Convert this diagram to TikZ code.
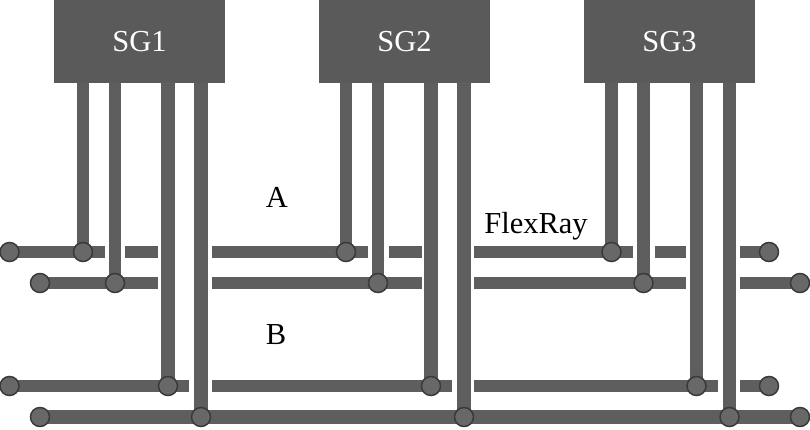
\documentclass[tikz,border=0pt]{standalone}
\usepackage{fontspec}
\setmainfont{Liberation Serif}
\usetikzlibrary{backgrounds}
\definecolor{boxgray}{HTML}{5A5A5A}
\definecolor{wiregray}{HTML}{5E5E5E}
\definecolor{tapgray}{HTML}{686868}
\definecolor{tapdark}{HTML}{3A3A3A}
\begin{document}
\begin{tikzpicture}[x=1pt,y=-1pt,
  sgbox/.style={fill=boxgray,text=white,minimum width=171pt,minimum height=83pt,inner sep=0pt},
  wire/.style={draw=wiregray,line width=12.5pt},
  tap/.style={circle,fill=tapgray,draw=tapdark,line width=1.5pt,minimum size=19pt,inner sep=0pt},
  every node/.append style={font=\fontsize{30.5}{32}\selectfont}]
\useasboundingbox (0,0) rectangle (810,430);
% control units
\node[sgbox] (sg1) at (139.5,41.5) {\raisebox{-1pt}{SG1}};
\node[sgbox] (sg2) at (404.5,41.5) {\raisebox{-1pt}{SG2}};
\node[sgbox] (sg3) at (669.5,41.5) {\raisebox{-1pt}{SG3}};
% bus ends
\node[tap] (l1) at (9.5,252) {};
\node[tap] (l2) at (40,283) {};
\node[tap] (l3) at (9.5,386) {};
\node[tap] (l4) at (40,417) {};
\node[tap] (r1) at (769,252) {};
\node[tap] (r2) at (800,283) {};
\node[tap] (r3) at (769,386) {};
\node[tap] (r4) at (800,417) {};
% taps and stubs
\foreach \s/\dx in {1/0,2/263,3/528.5} {
  \node[tap] (t\s a) at (83+\dx,252) {};
  \node[tap] (t\s b) at (115+\dx,283) {};
  \node[tap] (t\s c) at (168+\dx,386) {};
  \node[tap] (t\s d) at (201+\dx,417) {};
  \begin{scope}[on background layer]
    \draw[wire] (sg\s.south -| t\s a) -- (t\s a.center);
    \draw[wire] (sg\s.south -| t\s b) -- (t\s b.center);
    \draw[wire,line width=13.5pt] (sg\s.south -| t\s c) -- (t\s c.center);
    \draw[wire,line width=13.5pt] (sg\s.south -| t\s d) -- (t\s d.center);
  \end{scope}
}
% bus pieces between the gaps
\begin{scope}[on background layer]
\foreach \n/\y/\xa/\xb in {a/252/9.5/105,b/252/125/158,c/252/212/368,d/252/389/422,e/252/474/633,
    f/252/655/686,g/252/740/769,h/283/40/158,i/283/212/422,j/283/474/686,k/283/740/800,
    m/386/9.5/189,n/386/212/452,o/386/474/718,p/386/740/769} {
  \coordinate (\n0) at (\xa,\y);
  \coordinate (\n1) at (\xb,\y);
  \draw[wire] (\n0) -- (\n1);
}
\draw[wire,line width=14pt] (l4.center) -- (r4.center);
\end{scope}
\node (lblA) at (277,197) {A};
\node (lblB) at (276,335) {B};
\node (lblFR) at (536,226) {FlexRay};
\end{tikzpicture}
\end{document}
